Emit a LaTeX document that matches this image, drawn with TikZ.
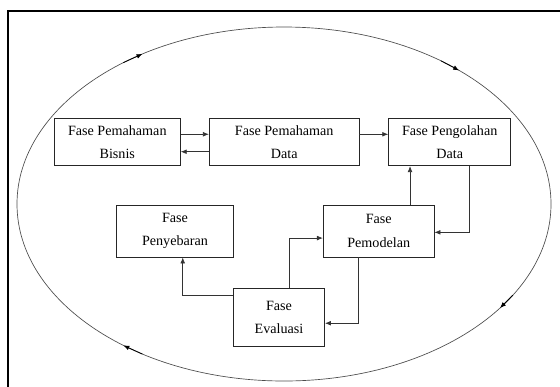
\documentclass[tikz,border=0pt]{standalone}
\usepackage{fontspec}
\setmainfont{Liberation Serif}
\usetikzlibrary{arrows.meta}

\tikzset{
  fase/.style={draw=black!85, line width=0.6pt, align=center, inner sep=0pt,
    font=\fontsize{10.6}{17.5}\selectfont},
  arr/.style={draw=black!80, line width=0.6pt, -{Latex[length=4.5pt,width=3.6pt]}},
}

\begin{document}
\begin{tikzpicture}[x=0.75pt,y=-0.75pt]
  \useasboundingbox (0,0) rectangle (560,386);
  \clip (0,0) rectangle (560,386);

  % frame
  \draw[line width=1.5pt] (8,10.5) rectangle (620,450);

  % outer cycle
  \draw[black!70, line width=0.5pt] (284,204) ellipse [x radius=267, y radius=177];
  \foreach \t in {122,49,-36,-127}
    \draw[arr, draw=black] ({284+267*cos(\t+5)},{204-177*sin(\t+5)}) -- ({284+267*cos(\t)},{204-177*sin(\t)});

  % phases
  \node[fase, minimum width=94.5pt, minimum height=35.5pt] (bisnis) at (117.3,142) {Fase Pemahaman\\Bisnis};
  \node[fase, minimum width=112.3pt, minimum height=35.5pt] (data) at (284.2,142) {Fase Pemahaman\\Data};
  \node[fase, minimum width=91.5pt, minimum height=35.5pt] (olah) at (449.7,142) {Fase Pengolahan\\Data};
  \node[fase, minimum width=87.5pt, minimum height=39pt] (sebar) at (175,231) {Fase\\Penyebaran};
  \node[fase, minimum width=83pt, minimum height=39pt] (model) at (378.7,231) {Fase\\Pemodelan};
  \node[fase, minimum width=68.3pt, minimum height=44pt] (eval) at (279,317.5) {Fase\\Evaluasi};

  % flows
  \draw[arr] ([yshift=5.8pt]bisnis.east) -- ([yshift=5.8pt]data.west);
  \draw[arr] ([yshift=-7.3pt]data.west) -- ([yshift=-7.3pt]bisnis.east);
  \draw[arr] ([yshift=5.8pt]data.east) -- ([yshift=5.8pt]olah.west);
  \draw[arr] ([xshift=23.5pt]model.north) -- ([xshift=23.5pt]model.north |- olah.south);
  \draw[arr] ([xshift=14.5pt]olah.south) |- ([yshift=-1pt]model.east);
  \draw[arr] ([xshift=-15.3pt]model.south) |- ([yshift=-4.3pt]eval.east);
  \draw[arr] ([xshift=7.5pt]eval.north) |- ([yshift=-5.3pt]model.west);
  \draw[arr] ([yshift=16.9pt]eval.west) -| ([xshift=5.8pt]sebar.south);
\end{tikzpicture}
\end{document}
